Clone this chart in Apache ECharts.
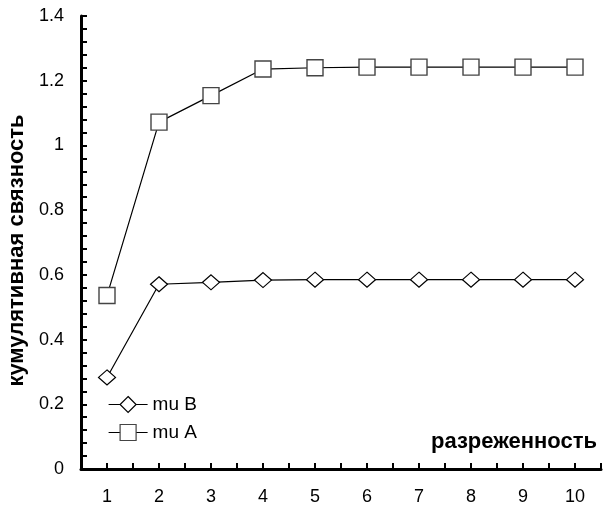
<!DOCTYPE html>
<html>
<head>
<meta charset="utf-8">
<script src="https://cdn.jsdelivr.net/npm/echarts@6/dist/echarts.min.js"></script>
<style>
html,body{margin:0;padding:0;background:#fff;}
#chart{width:603px;height:508px;}
</style>
</head>
<body>
<div id="chart"></div>
<script>
const xValues = [1, 2, 3, 4, 5, 6, 7, 8, 9, 10];
const muA = [0.536, 1.072, 1.154, 1.236, 1.240, 1.242, 1.242, 1.242, 1.242, 1.242];
const muB = [0.283, 0.571, 0.577, 0.584, 0.585, 0.585, 0.585, 0.585, 0.585, 0.585];
const seriesNames = ['mu B', 'mu A'];
const xTitle = 'разреженность';
const yTitle = 'кумулятивная связность';

const chart = echarts.init(document.getElementById('chart'), null, {renderer: 'canvas'});
const font = 'Liberation Sans, Arial, sans-serif';
const pair = arr => xValues.map((x, i) => [x, arr[i]]);

chart.setOption({
  backgroundColor: '#fff',
  animation: false,
  grid: {left: 81, right: 2, top: 16, bottom: 39, containLabel: false, outerBoundsMode: 'none'},
  legend: {
    data: seriesNames,
    orient: 'vertical',
    left: 103,
    top: 390,
    itemWidth: 39,
    itemHeight: 20,
    itemGap: 9,
    lineStyle: {width: 1.2},
    itemStyle: {borderWidth: 1.2},
    textStyle: {fontFamily: font, fontSize: 19, color: '#000'}
  },
  xAxis: {
    type: 'value',
    min: 0.5,
    max: 10.5,
    interval: 0.5,
    name: xTitle,
    nameLocation: 'end',
    nameGap: -4,
    nameTextStyle: {fontFamily: font, fontSize: 22, fontWeight: 'bold', color: '#000',
      align: 'right', verticalAlign: 'bottom', padding: [0, 0, 16, 0]},
    axisLine: {lineStyle: {color: '#000', width: 3}},
    axisTick: {inside: true, length: 6, lineStyle: {color: '#000', width: 2}},
    axisLabel: {
      fontFamily: font, fontSize: 18, color: '#000', margin: 19,
      formatter: v => (Math.abs(v - Math.round(v)) < 1e-9 ? String(Math.round(v)) : '')
    },
    splitLine: {show: false}
  },
  yAxis: {
    type: 'value',
    min: 0,
    max: 1.4,
    interval: 0.04,
    name: yTitle,
    nameLocation: 'middle',
    nameGap: 46,
    nameTextStyle: {fontFamily: font, fontSize: 22, fontWeight: 'bold', color: '#000', padding: [0, 0, 0, -16]},
    axisLine: {lineStyle: {color: '#000', width: 3}},
    axisTick: {inside: true, length: 6, lineStyle: {color: '#000', width: 2}},
    axisLabel: {
      fontFamily: font, fontSize: 18, color: '#000', margin: 17,
      formatter: v => (Math.abs(v * 5 - Math.round(v * 5)) < 1e-6 ? String(Math.round(v * 10) / 10) : '')
    },
    splitLine: {show: false}
  },
  series: [
    {
      name: 'mu B',
      type: 'line',
      data: pair(muB),
      symbol: 'diamond',
      symbolSize: [17, 15],
      showAllSymbol: true,
      lineStyle: {color: '#000', width: 1.2},
      itemStyle: {color: '#fff', borderColor: '#000', borderWidth: 1.2}
    },
    {
      name: 'mu A',
      type: 'line',
      data: pair(muA),
      symbol: 'rect',
      symbolSize: 16,
      showAllSymbol: true,
      lineStyle: {color: '#000', width: 1.2},
      itemStyle: {color: '#fff', borderColor: '#444', borderWidth: 1.4}
    }
  ]
});
</script>
</body>
</html>
